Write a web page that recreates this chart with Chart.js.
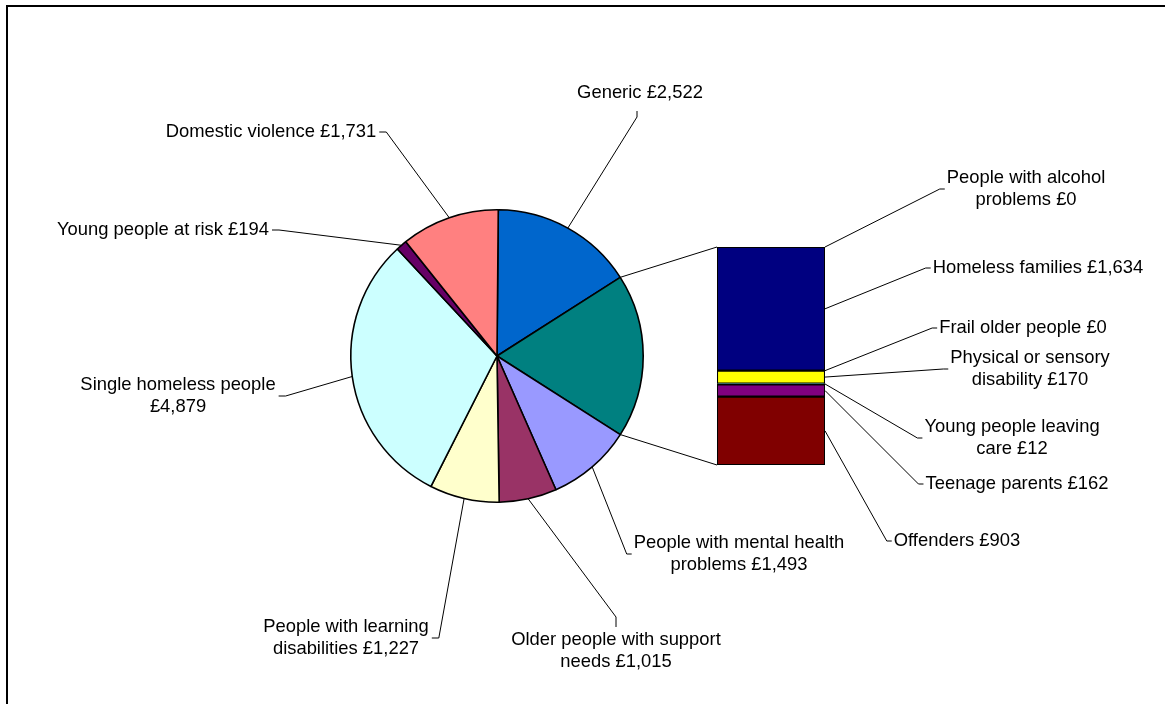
<!DOCTYPE html>
<html>
<head>
<meta charset="utf-8">
<script src="https://cdn.jsdelivr.net/npm/chart.js@4"></script>
<style>
  body { margin: 0; background: #fff; }
  #wrap { position: relative; width: 1165px; height: 704px; }
  #wrap canvas { position: absolute; left: 0; top: 0; }
</style>
</head>
<body>
<div id="wrap">
  <canvas id="pieChart" width="1165" height="704"></canvas>
  <canvas id="barChart" width="1165" height="704"></canvas>
</div>
<script>
// pie slices (clockwise from the top); "Other" is the split-out bar
const sliceNames = ['Generic', 'Other', 'People with mental health problems', 'Older people with support needs',
    'People with learning disabilities', 'Single homeless people', 'Young people at risk', 'Domestic violence'];
const sliceColors = ['#0066CC', '#008080', '#9999FF', '#993366', '#FFFFCC', '#CCFFFF', '#660066', '#FF8080'];

// bar segments, top to bottom
const barNames = ['People with alcohol problems', 'Homeless families', 'Frail older people',
    'Physical or sensory disability', 'Young people leaving care', 'Teenage parents', 'Offenders'];
const barValues = [0, 1634, 0, 170, 12, 162, 903];
const barColors = ['#0066CC', '#000080', '#FF00FF', '#FFFF00', '#00FFFF', '#800080', '#800000'];

const otherTotal = barValues.reduce((a, b) => a + b, 0);
const sliceValues = [2522, otherTotal, 1493, 1015, 1227, 4879, 194, 1731];

// label layout: text centre, side the leader attaches to, words on first line (0 = one line)
const pieLabelPos = [
    { x: 640, y: 93, side: 'bottom', br: 0 },
    null,
    { x: 739, y: 543, side: 'left', br: 4 },
    { x: 616, y: 640, side: 'top', br: 4 },
    { x: 346, y: 627, side: 'right', br: 3 },
    { x: 178, y: 385, side: 'right', br: 3 },
    { x: 163, y: 230, side: 'right', br: 0 },
    { x: 271, y: 132, side: 'right', br: 0 }
];
const barLabelPos = [
    { x: 1026, y: 178, side: 'left', br: 3 },
    { x: 1038, y: 268, side: 'left', br: 0 },
    { x: 1023, y: 328, side: 'left', br: 0 },
    { x: 1030, y: 358, side: 'left', br: 3 },
    { x: 1012, y: 427, side: 'left', br: 3 },
    { x: 1017, y: 484, side: 'left', br: 0 },
    { x: 957, y: 541, side: 'left', br: 0 }
];

const FONT_SIZE = 18.4;
const LINE_H = 22;
const fontStr = FONT_SIZE + 'px "Liberation Sans", Arial, sans-serif';

function money(v) {
    return '£' + v.toLocaleString('en-GB');
}

function labelLines(name, value, br) {
    const words = (name + ' ' + money(value)).split(' ');
    if (!br) return [words.join(' ')];
    return [words.slice(0, br).join(' '), words.slice(br).join(' ')];
}

// draws a text block and a leader line from (px, py) to it
function drawLabel(ctx, lines, pos, px, py) {
    ctx.font = fontStr;
    ctx.fillStyle = '#000';
    ctx.textAlign = 'center';
    ctx.textBaseline = 'middle';
    let maxW = 0;
    lines.forEach((l, i) => {
        ctx.fillText(l, pos.x, pos.y + i * LINE_H);
        maxW = Math.max(maxW, ctx.measureText(l).width);
    });
    const left = pos.x - maxW / 2;
    const right = pos.x + maxW / 2;
    const top = pos.y - 11;
    const bottom = pos.y + (lines.length - 1) * LINE_H + 10;
    const midY = pos.y + (lines.length - 1) * LINE_H / 2;
    let attach, elbow;
    switch (pos.side) {
        case 'left':
            attach = [left - 2, midY]; elbow = [left - 7, midY]; break;
        case 'right':
            attach = [right + 3, midY]; elbow = [right + 10, midY]; break;
        case 'top':
            attach = [pos.x, top - 2]; elbow = [pos.x, top - 12]; break;
        default:
            attach = [pos.x - 3, bottom + 8]; elbow = [pos.x - 3, bottom + 14]; break;
    }
    ctx.beginPath();
    ctx.moveTo(px, py);
    ctx.lineTo(elbow[0], elbow[1]);
    ctx.lineTo(attach[0], attach[1]);
    ctx.stroke();
}

const overlayPlugin = {
    id: 'overlay',
    afterDraw(chart) {
        const ctx = chart.ctx;
        ctx.save();
        ctx.strokeStyle = '#000';

        // chart frame
        ctx.lineWidth = 2;
        ctx.strokeRect(7, 6, 1300, 900);

        ctx.lineWidth = 1;
        const arcs = pieChart.getDatasetMeta(0).data;
        const n = barValues.length;
        const segs = barValues.map((v, i) => chart.getDatasetMeta(n - 1 - i).data[0]);
        const barLeft = segs[0].x - segs[0].width / 2;
        const barRight = segs[0].x + segs[0].width / 2;
        const barTop = Math.min(...segs.map(s => Math.min(s.y, s.base)));
        const barBottom = Math.max(...segs.map(s => Math.max(s.y, s.base)));

        // connectors from the "Other" slice to the bar
        const other = arcs[1];
        ctx.beginPath();
        ctx.moveTo(other.x + other.outerRadius * Math.cos(other.startAngle), other.y + other.outerRadius * Math.sin(other.startAngle));
        ctx.lineTo(barLeft, barTop);
        ctx.moveTo(other.x + other.outerRadius * Math.cos(other.endAngle), other.y + other.outerRadius * Math.sin(other.endAngle));
        ctx.lineTo(barLeft, barBottom);
        ctx.stroke();

        // pie labels
        arcs.forEach((arc, i) => {
            const pos = pieLabelPos[i];
            if (!pos) return;
            const mid = (arc.startAngle + arc.endAngle) / 2;
            const px = arc.x + arc.outerRadius * Math.cos(mid);
            const py = arc.y + arc.outerRadius * Math.sin(mid);
            drawLabel(ctx, labelLines(sliceNames[i], sliceValues[i], pos.br), pos, px, py);
        });

        // bar labels
        segs.forEach((s, i) => {
            const py = (s.y + s.base) / 2;
            drawLabel(ctx, labelLines(barNames[i], barValues[i], barLabelPos[i].br), barLabelPos[i], barRight, py);
        });
        ctx.restore();
    }
};

Chart.defaults.font.family = '"Liberation Sans", Arial, sans-serif';

const pieChart = new Chart(document.getElementById('pieChart'), {
    type: 'pie',
    data: {
        labels: sliceNames,
        datasets: [{
            data: sliceValues,
            backgroundColor: sliceColors,
            borderColor: '#000',
            borderWidth: 1.6
        }]
    },
    options: {
        responsive: false,
        animation: false,
        rotation: 0.5,
        layout: { padding: { left: 350, right: 521, top: 209, bottom: 201 } },
        plugins: { legend: { display: false }, tooltip: { enabled: false } }
    }
});

const barChart = new Chart(document.getElementById('barChart'), {
    type: 'bar',
    data: {
        labels: ['Other'],
        datasets: barValues.map((v, i) => ({ label: barNames[i], data: [v], backgroundColor: barColors[i] })).reverse()
    },
    options: {
        responsive: false,
        animation: false,
        events: [],
        datasets: {
            bar: { barPercentage: 1, categoryPercentage: 1, borderColor: '#000', borderWidth: 1.4, borderSkipped: false }
        },
        layout: { padding: { left: 717, right: 340, top: 247, bottom: 239 } },
        scales: {
            x: { stacked: true, display: false },
            y: { stacked: true, display: false, min: 0, max: otherTotal }
        },
        plugins: { legend: { display: false }, tooltip: { enabled: false } }
    },
    plugins: [overlayPlugin]
});
</script>
</body>
</html>
